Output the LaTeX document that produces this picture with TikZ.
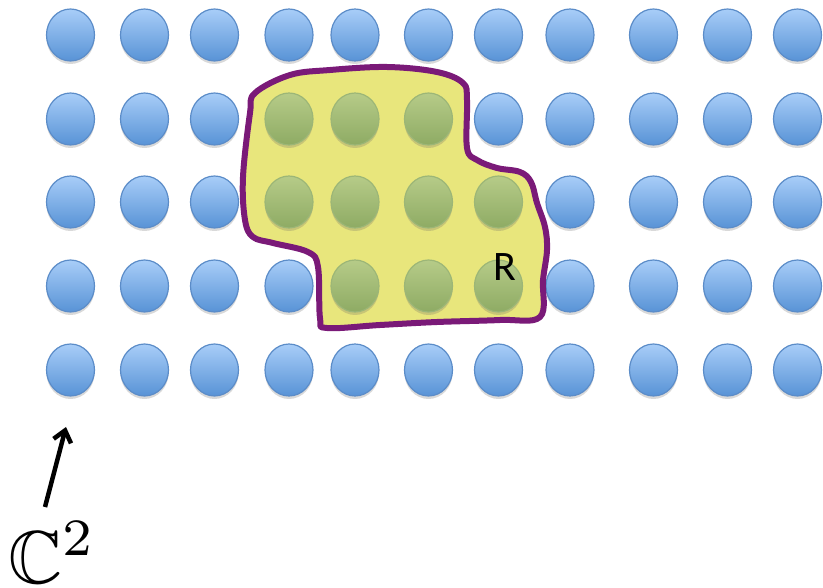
\documentclass[tikz,border=0pt]{standalone}
\usepackage{amssymb}
\usepackage{fontspec}
\newfontfamily\calib{Carlito}
\usetikzlibrary{shapes.geometric,shadows,arrows.meta}
\definecolor{btop}{HTML}{A8CDF8}
\definecolor{bbot}{HTML}{5893D6}
\definecolor{bline}{HTML}{5B8CC8}
\definecolor{gtop}{HTML}{B6CB88}
\definecolor{gbot}{HTML}{8EAB64}
\definecolor{gline}{HTML}{9CB677}
\definecolor{regfill}{HTML}{E8E67C}
\definecolor{regline}{HTML}{7A1A78}
\begin{document}
\begin{tikzpicture}[x=1pt,y=-1pt,
  dot/.style={ellipse,minimum width=48pt,minimum height=52pt,inner sep=0pt,
    line width=1.2pt,
    drop shadow={shadow xshift=0pt,shadow yshift=-3pt,opacity=0.25,fill=black!60}},
  bluedot/.style={dot,top color=btop,bottom color=bbot,draw=bline},
  greendot/.style={dot,top color=gtop,bottom color=gbot,draw=gline},
  region/.style={fill=regfill,draw=regline,line width=6pt,line join=round},
  lbl/.style={inner sep=0pt,font=\calib\fontsize{42}{42}\selectfont},
  pointer/.style={line width=4.5pt,-{Straight Barb[length=11pt,width=18pt,line width=4.5pt]}}]
\useasboundingbox (0,0) rectangle (823,588);
% blue lattice
\foreach \c/\x in {1/70.5,2/144.5,3/214.5,4/289,5/355,6/428.5,7/498.5,8/570,9/653.5,10/727.5,11/797.5}{
  \foreach \r/\y in {1/35,2/119,3/202,4/286,5/370}{
    \node[bluedot] (b-\r-\c) at (\x,\y) {};
  }
}
% region
\draw[region] plot[smooth cycle,tension=0.6] coordinates {
  (255,93) (290,75) (330,70) (387,67) (437,72) (463,83) (467,100) (467,148)
  (477,160) (497,168) (520,172) (531,182) (537,203) (545,227) (547,250)
  (543,280) (540,317) (500,320) (437,322) (380,325) (327,328) (320,318)
  (318,267) (308,252) (273,243) (253,237) (245,220) (243,177) (250,113)};
% green dots inside region
\foreach \r/\c/\x/\y in {2/4/289/119,2/5/355/119,2/6/428.5/119,
  3/4/289/202,3/5/355/202,3/6/428.5/202,3/7/498.5/202,
  4/5/355/286,4/6/428.5/286,4/7/498.5/286}{
  \node[greendot] (g-\r-\c) at (\x,\y) {};
}
\node[lbl] (R) at (505,267) {R};
% C^2 label and pointer
\node[anchor=base west,inner sep=0pt,scale=7.5] (C2) at (7,583) {$\mathbb{C}^2$};
\coordinate (ptail) at (45,507);
\coordinate (phead) at (66,427);
\draw[pointer] (ptail) -- (phead);
\end{tikzpicture}
\end{document}
